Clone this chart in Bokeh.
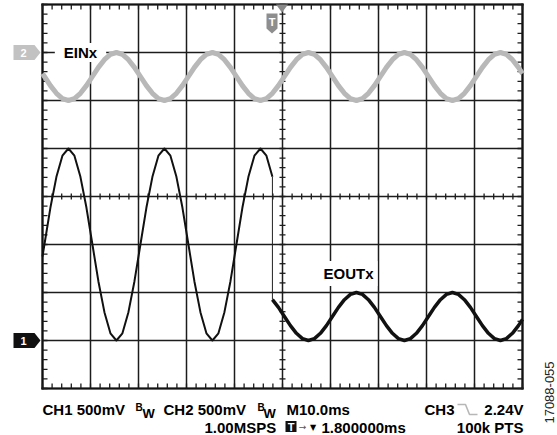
import numpy as np
from bokeh.plotting import figure
from bokeh.models import Range1d, Label, PolyAnnotation
from bokeh.embed import file_html
from bokeh.resources import INLINE

# ---------------- data read from the scope screen ----------------
# time axis: 10 ms / division, 10 divisions; samples every 1.25 ms plus both screen edges
time_ms = [0.0] + [round(0.4 + 1.25 * i, 2) for i in range(80)] + [100.0]

# vertical positions in screen divisions (0 = bottom of graticule, 8 = top)
ein_div = [6.56,
           6.5, 6.31, 6.15, 6.04, 6.0, 6.04, 6.15, 6.31, 6.5, 6.69, 6.85, 6.96, 7.0, 6.96, 6.85,
           6.69, 6.5, 6.31, 6.15, 6.04, 6.0, 6.04, 6.15, 6.31, 6.5, 6.69, 6.85, 6.96, 7.0, 6.96, 6.85,
           6.69, 6.5, 6.31, 6.15, 6.04, 6.0, 6.04, 6.15, 6.31, 6.5, 6.69, 6.85, 6.96, 7.0, 6.96, 6.85,
           6.69, 6.5, 6.31, 6.15, 6.04, 6.0, 6.04, 6.15, 6.31, 6.5, 6.69, 6.85, 6.96, 7.0, 6.96, 6.85,
           6.69, 6.5, 6.31, 6.15, 6.04, 6.0, 6.04, 6.15, 6.31, 6.5, 6.69, 6.85, 6.96, 7.0, 6.96, 6.85,
           6.69, 6.56]

switch_index = 39  # sample where EOUTx steps down
eout_before_div = [2.75, 3.0, 3.77, 4.41, 4.85, 5.0, 4.85, 4.41, 3.77, 3.0, 2.23, 1.59, 1.15, 1.0, 1.15, 1.59,
                   2.23, 3.0, 3.77, 4.41, 4.85, 5.0, 4.85, 4.41, 3.77, 3.0, 2.23, 1.59, 1.15, 1.0, 1.15, 1.59,
                   2.23, 3.0, 3.77, 4.41, 4.85, 5.0, 4.85, 4.41]
eout_after_div = [1.85, 1.69, 1.5, 1.31, 1.15, 1.04, 1.0, 1.04, 1.15,
                  1.31, 1.5, 1.69, 1.85, 1.96, 2.0, 1.96, 1.85, 1.69, 1.5, 1.31, 1.15, 1.04, 1.0, 1.04, 1.15,
                  1.31, 1.5, 1.69, 1.85, 1.96, 2.0, 1.96, 1.85, 1.69, 1.5, 1.31, 1.15, 1.04, 1.0, 1.04, 1.15,
                  1.31, 1.44]

major_x_ticks = [0, 10, 20, 30, 40, 50, 60, 70, 80, 90, 100]
major_y_ticks = [0, 1, 2, 3, 4, 5, 6, 7, 8]
minor_x_ticks = [2 * i for i in range(51)]
minor_y_ticks = [round(0.2 * i, 1) for i in range(41)]
center_time_ms = 50
center_level_div = 4

line1_texts = ["CH1 500mV", "CH2 500mV", "M10.0ms", "CH3", "2.24V"]
line2_texts = ["1.00MSPS", "1.800000ms", "100k PTS"]

# ---------------- geometry: window pixel <-> data ----------------
W, H = 557, 435
X0, PXX = 42.0, 4.8     # pixel of t = 0, pixels per ms
Y0, PXY = 388.0, 48.0   # pixel of 0 div, pixels per division


def dx(px):
    return (px - X0) / PXX


def dy(py):
    return (Y0 - py) / PXY


p = figure(width=W, height=H, x_range=Range1d(dx(0), dx(W)), y_range=Range1d(dy(H), dy(0)),
           x_axis_type=None, y_axis_type=None, toolbar_location=None,
           output_backend="svg", min_border=0)
p.outline_line_color = None
p.background_fill_color = "white"
p.border_fill_color = "white"
p.xgrid.visible = False
p.ygrid.visible = False

GRID = "#1c1c1c"
gx0, gx1 = major_x_ticks[0], major_x_ticks[-1]
gy0, gy1 = major_y_ticks[0], major_y_ticks[-1]

# major graticule
p.segment(x0=major_x_ticks, y0=[gy0] * len(major_x_ticks), x1=major_x_ticks,
          y1=[gy1] * len(major_x_ticks), line_color=GRID, line_width=1.5, level="image")
p.segment(x0=[gx0] * len(major_y_ticks), y0=major_y_ticks, x1=[gx1] * len(major_y_ticks),
          y1=major_y_ticks, line_color=GRID, line_width=1.5, level="image")
# outer border
p.segment(x0=[gx0, gx1, gx0, gx0], y0=[gy0, gy0, gy0, gy1], x1=[gx0, gx1, gx1, gx1],
          y1=[gy1, gy1, gy0, gy1], line_color="#111111", line_width=2.2,
          line_cap="square", level="image")

# minor ticks (lengths in pixels converted to data)
TLX, TLY = 5 / PXX, 5 / PXY
CX, CY = 3 / PXX, 3 / PXY
nx, ny = len(minor_x_ticks), len(minor_y_ticks)
tick_kw = dict(line_color=GRID, line_width=1.3, level="image")
p.segment(x0=minor_x_ticks, y0=[gy0] * nx, x1=minor_x_ticks, y1=[gy0 + TLY] * nx, **tick_kw)
p.segment(x0=minor_x_ticks, y0=[gy1] * nx, x1=minor_x_ticks, y1=[gy1 - TLY] * nx, **tick_kw)
p.segment(x0=[gx0] * ny, y0=minor_y_ticks, x1=[gx0 + TLX] * ny, y1=minor_y_ticks, **tick_kw)
p.segment(x0=[gx1] * ny, y0=minor_y_ticks, x1=[gx1 - TLX] * ny, y1=minor_y_ticks, **tick_kw)
p.segment(x0=minor_x_ticks, y0=[center_level_div - CY] * nx, x1=minor_x_ticks,
          y1=[center_level_div + CY] * nx, **tick_kw)
p.segment(x0=[center_time_ms - CX] * ny, y0=minor_y_ticks, x1=[center_time_ms + CX] * ny,
          y1=minor_y_ticks, **tick_kw)

# ---------------- traces ----------------
p.line(time_ms, ein_div, line_color="#b8b8b8", line_width=5, line_join="round")
t_before = time_ms[:switch_index + 1]
t_after = time_ms[switch_index:]
p.line(t_before, eout_before_div, line_color="#111111", line_width=2, line_join="round")
p.line([t_before[-1], t_after[0]], [eout_before_div[-1], eout_after_div[0]],
       line_color="#222222", line_width=1)
p.line(t_after, eout_after_div, line_color="#111111", line_width=3.5, line_join="round")


# ---------------- decorations (placed by window pixel) ----------------
def txt(x, y, s, size, color="black", bold=True, align="left",
        baseline="middle", font="Liberation Sans", angle=0.0, **kw):
    p.add_layout(Label(x=dx(x), y=dy(y), text=s, text_font=font,
                       text_font_size=f"{size}px",
                       text_font_style="bold" if bold else "normal",
                       text_color=color, text_align=align,
                       text_baseline=baseline, angle=angle, **kw))


def poly(xs, ys, fill=None, line=None, lw=1.0):
    p.add_layout(PolyAnnotation(xs=[dx(v) for v in xs], ys=[dy(v) for v in ys],
                                fill_color=fill if fill else "white",
                                fill_alpha=1.0 if fill else 0.0,
                                line_color=line, line_width=lw))


# trace name labels (white boxes over the graticule, under the traces)
txt(80, 52, "EINx", 15, align="center",
    background_fill_color="white", padding=dict(x=9, y=1), level="underlay")
txt(348, 273, "EOUTx", 15, align="center",
    background_fill_color="white", padding=dict(x=4, y=4), level="underlay")

# channel markers
poly([13, 34, 40, 34, 13], [44.5, 44.5, 52, 59.5, 59.5], fill="#c2c2c2")
txt(23, 52.5, "2", 11, color="white", align="center")
poly([13, 34, 40, 34, 13], [332.5, 332.5, 340, 347.5, 347.5], fill="#111111")
txt(23, 340.5, "1", 11, color="white", align="center")

# trigger position marker
poly([275.5, 287.5, 281.5], [4, 4, 12], fill="#8a8a8a")
poly([266, 277, 277, 271.5, 266], [13, 13, 28, 33, 28], fill="#8e8e8e")
txt(271.5, 21, "T", 11, color="white", align="center")

# status line 1 (cap centres)
C1 = 409
txt(42, C1, line1_texts[0], 15)
txt(135, 406.5, "B", 10)
txt(142, 412.5, "W", 13)
txt(163, C1, line1_texts[1], 15)
txt(257, 406.5, "B", 10)
txt(263, 412.5, "W", 13)
txt(286, C1, line1_texts[2], 15)
txt(424, C1, line1_texts[3], 15)
poly([457, 465, 469, 477, 469, 465], [404, 404, 414, 414, 414, 404], line="#111111", lw=1.6)
txt(523, C1, line1_texts[4], 15, align="right")

# status line 2
C2 = 426.5
txt(204, C2, line2_texts[0], 15)
poly([285, 296, 296, 285], [420.5, 420.5, 431.5, 431.5], fill="#111111")
txt(290.5, 426.5, "T", 11, color="white", align="center")
txt(302, 426.5, "\u2192", 9, color="#555555", bold=False, align="center",
    font="DejaVu Sans")
txt(312.5, 427, "\u25bc", 8, bold=False, align="center", font="DejaVu Sans")
txt(321, C2, line2_texts[1], 15)
txt(523, C2, line2_texts[2], 15, align="right")

# figure number, rotated
txt(549, 392, "17088-055", 13, color="#222222", bold=False, align="center",
    angle=np.pi / 2)

open("out.html", "w").write(file_html(p, INLINE))
